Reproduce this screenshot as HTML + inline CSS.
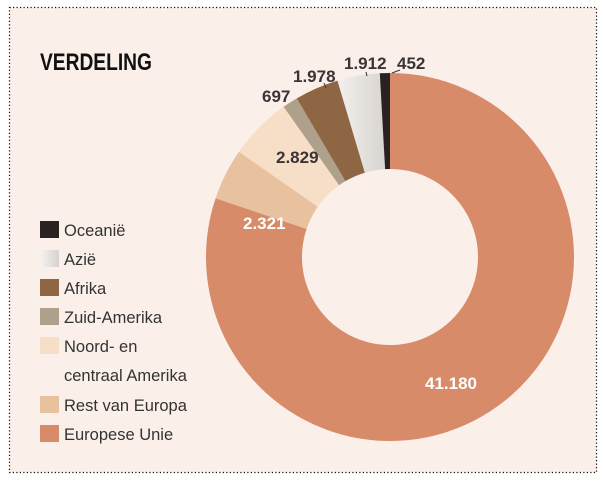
<!DOCTYPE html>
<html><head><meta charset="utf-8"><style>
body{margin:0;background:#fff;width:604px;height:481px;overflow:hidden;font-family:"Liberation Sans",sans-serif}
</style></head><body>
<svg width="604" height="481" viewBox="0 0 604 481" xmlns="http://www.w3.org/2000/svg">
<defs><linearGradient id="az" x1="0" x2="1"><stop offset="0" stop-color="#f3efec"/><stop offset="1" stop-color="#d8d4d1"/></linearGradient>
<linearGradient id="azl" x1="0" x2="1"><stop offset="0" stop-color="#f6f2ef"/><stop offset="1" stop-color="#d6d2cf"/></linearGradient></defs>
<rect x="9.5" y="7.5" width="587" height="465" fill="#fbefea" stroke="#111" stroke-dasharray="1.2,2.3" stroke-width="1.2"/>
<text x="40" y="70" font-size="24" font-weight="bold" fill="#111" transform="translate(40 0) scale(0.8 1) translate(-40 0)">VERDELING</text>
<g font-weight="bold">
<path d="M390,73 A184,184 0 1 1 215.6,198.3 L306.6,228.9 A88,88 0 1 0 390,169 Z" fill="#d78b69"/>
<path d="M215.6,198.3 A184,184 0 0 1 239,151.8 L317.8,206.7 A88,88 0 0 0 306.6,228.9 Z" fill="#e8c19f"/>
<path d="M239,151.8 A184,184 0 0 1 283.6,106.8 L339.1,185.2 A88,88 0 0 0 317.8,206.7 Z" fill="#f6dfc6"/>
<path d="M283.6,106.8 A184,184 0 0 1 296.8,98.4 L345.4,181.1 A88,88 0 0 0 339.1,185.2 Z" fill="#aea08b"/>
<path d="M296.8,98.4 A184,184 0 0 1 337.5,80.6 L364.9,172.7 A88,88 0 0 0 345.4,181.1 Z" fill="#8e6644"/>
<path d="M337.5,80.6 A184,184 0 0 1 379.8,73.3 L385.1,169.1 A88,88 0 0 0 364.9,172.7 Z" fill="url(#az)"/>
<path d="M379.8,73.3 A184,184 0 0 1 390,73 L390,169 A88,88 0 0 0 385.1,169.1 Z" fill="#2a2123"/>
<g stroke="#333" stroke-width="1"><line x1="392" y1="73" x2="400" y2="70"/><line x1="366" y1="72" x2="367" y2="76"/><line x1="324" y1="83" x2="326" y2="88"/></g>
<g font-size="17" fill="#3a3436">
<text x="397" y="69">452</text><text x="344" y="69">1.912</text><text x="293" y="82">1.978</text><text x="262" y="102">697</text><text x="276" y="163">2.829</text>
</g>
<g font-size="17" fill="#fff"><text x="243" y="229">2.321</text><text x="425" y="389">41.180</text></g>
</g>
<g font-size="16.5" fill="#333">
<rect x="40" y="221" width="19" height="17" fill="#2a2123"/><text x="64" y="236">Oceanië</text>
<rect x="40" y="250" width="19" height="17" fill="url(#azl)"/><text x="64" y="265">Azië</text>
<rect x="40" y="279" width="19" height="17" fill="#8e6644"/><text x="64" y="294">Afrika</text>
<rect x="40" y="308" width="19" height="17" fill="#aea08b"/><text x="64" y="323">Zuid-Amerika</text>
<rect x="40" y="337" width="19" height="17" fill="#f6dfc6"/><text x="64" y="352">Noord- en</text>
<text x="64" y="381">centraal Amerika</text>
<rect x="40" y="396" width="19" height="17" fill="#e8c19f"/><text x="64" y="411">Rest van Europa</text>
<rect x="40" y="425" width="19" height="17" fill="#d78b69"/><text x="64" y="440">Europese Unie</text>
</g>
</svg>
</body></html>
